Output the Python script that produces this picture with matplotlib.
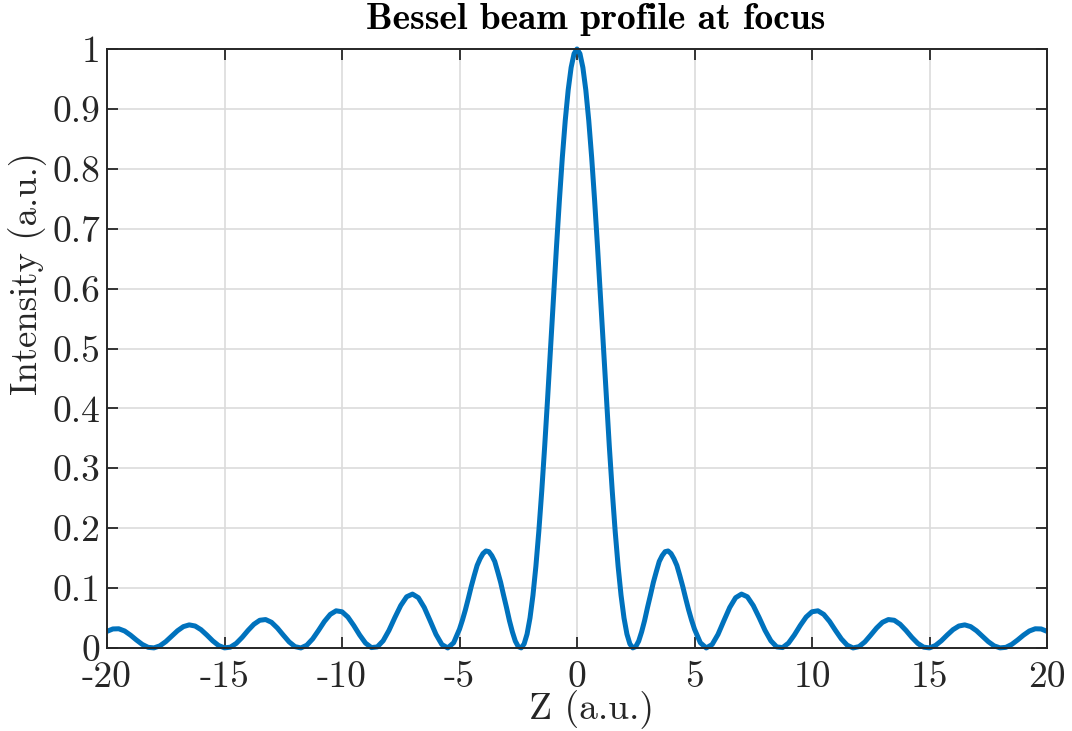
import matplotlib
matplotlib.use("Agg")
import matplotlib.pyplot as plt

# intensity profile (right half, symmetric about Z = 0)
z_half = [0.0, 0.125, 0.25, 0.375, 0.5, 0.625, 0.75, 0.875, 1.0, 1.125, 1.25, 1.375,
          1.5, 1.625, 1.75, 1.875, 2.0, 2.125, 2.25, 2.375, 2.5, 2.625, 2.75, 2.875,
          3.0, 3.125, 3.25, 3.375, 3.5, 3.625, 3.75, 3.875, 4.0, 4.125, 4.25, 4.375,
          4.5, 4.625, 4.75, 4.875, 5.0, 5.25, 5.5, 5.75,
          6.0, 6.25, 6.5, 6.75, 7.0, 7.25, 7.5, 7.75, 8.0, 8.25, 8.5, 8.75,
          9.0, 9.25, 9.5, 9.75, 10.0, 10.25, 10.5, 10.75, 11.0, 11.25, 11.5, 11.75,
          12.0, 12.25, 12.5, 12.75, 13.0, 13.25, 13.5, 13.75, 14.0, 14.25, 14.5, 14.75,
          15.0, 15.25, 15.5, 15.75, 16.0, 16.25, 16.5, 16.75, 17.0, 17.25, 17.5, 17.75,
          18.0, 18.25, 18.5, 18.75, 19.0, 19.25, 19.5, 19.75, 20.0]
i_half = [1.0, 0.9922, 0.9691, 0.9315, 0.8807, 0.8185, 0.7469, 0.6684, 0.5855, 0.5009, 0.4172, 0.3368,
          0.2620, 0.1946, 0.1362, 0.0878, 0.0501, 0.0232, 0.0068, 0.0002, 0.0023, 0.0115, 0.0269, 0.0456,
          0.0676, 0.0882, 0.1097, 0.1275, 0.1445, 0.1542, 0.1608, 0.1620, 0.1577, 0.1490, 0.1378, 0.1208,
          0.1027, 0.0827, 0.0636, 0.0466, 0.0315, 0.0087, 0.0001, 0.0058,
          0.0227, 0.0455, 0.0677, 0.0840, 0.0900, 0.0855, 0.0709, 0.0509, 0.0295, 0.0120, 0.0018, 0.0007,
          0.0082, 0.0218, 0.0376, 0.0517, 0.0605, 0.0621, 0.0561, 0.0443, 0.0293, 0.0151, 0.0046, 0.0001,
          0.0023, 0.0102, 0.0216, 0.0334, 0.0429, 0.0475, 0.0463, 0.0396, 0.0293, 0.0177, 0.0077, 0.0014,
          0.0002, 0.0041, 0.0119, 0.0216, 0.0306, 0.0367, 0.0386, 0.0357, 0.0288, 0.0198, 0.0106, 0.0036,
          0.0002, 0.0011, 0.0060, 0.0134, 0.0215, 0.0284, 0.0321, 0.0318, 0.0278]

z = [-v for v in reversed(z_half[1:])] + z_half
intensity = list(reversed(i_half[1:])) + i_half

x_ticks = [-20, -15, -10, -5, 0, 5, 10, 15, 20]
x_labels = ["-20", "-15", "-10", "-5", "0", "5", "10", "15", "20"]
y_ticks = [0, 0.1, 0.2, 0.3, 0.4, 0.5, 0.6, 0.7, 0.8, 0.9, 1]
y_labels = ["0", "0.1", "0.2", "0.3", "0.4", "0.5", "0.6", "0.7", "0.8", "0.9", "1"]

plt.rcParams['font.family'] = ['cmr10', 'DejaVu Serif']
plt.rcParams['axes.unicode_minus'] = False

fig = plt.figure(figsize=(10.72, 7.31), dpi=100)
ax = fig.add_axes([107 / 1072, 1 - 648 / 731, 940 / 1072, 599 / 731])

ax.plot(z, intensity, color='#0072BD', linewidth=3.6,
        solid_joinstyle='round', solid_capstyle='butt', clip_on=False)

ax.set_xlim(-20, 20)
ax.set_ylim(0, 1)
ax.set_xticks(x_ticks)
ax.set_xticklabels(x_labels)
ax.set_yticks(y_ticks)
ax.set_yticklabels(y_labels)

ax.grid(True, color='#dcdcdc', linewidth=1.2)
ax.set_axisbelow(True)
ax.tick_params(direction='in', length=8, width=1.3, colors='#262626',
               labelsize=27, top=True, right=True)
ax.tick_params(axis='y', pad=5)
ax.tick_params(axis='x', pad=9)
for s in ax.spines.values():
    s.set_color('#262626')
    s.set_linewidth(1.4)

ax.set_xlabel("Z (a.u.)", fontsize=27, color='#262626')
ax.xaxis.set_label_coords(0.515, -0.071)
ax.set_ylabel("Intensity (a.u.)", fontsize=26.5, color='#262626')
ax.yaxis.set_label_coords(-0.064, 0.626)

# title sits slightly right of centre, as in the reference
ax.text(0.52, 1.0334, "Bessel beam profile at focus", transform=ax.transAxes,
        ha='center', va='baseline', fontsize=27,
        family=['cmb10', 'DejaVu Serif'], color='black')

fig.savefig("out.png", dpi=100)
